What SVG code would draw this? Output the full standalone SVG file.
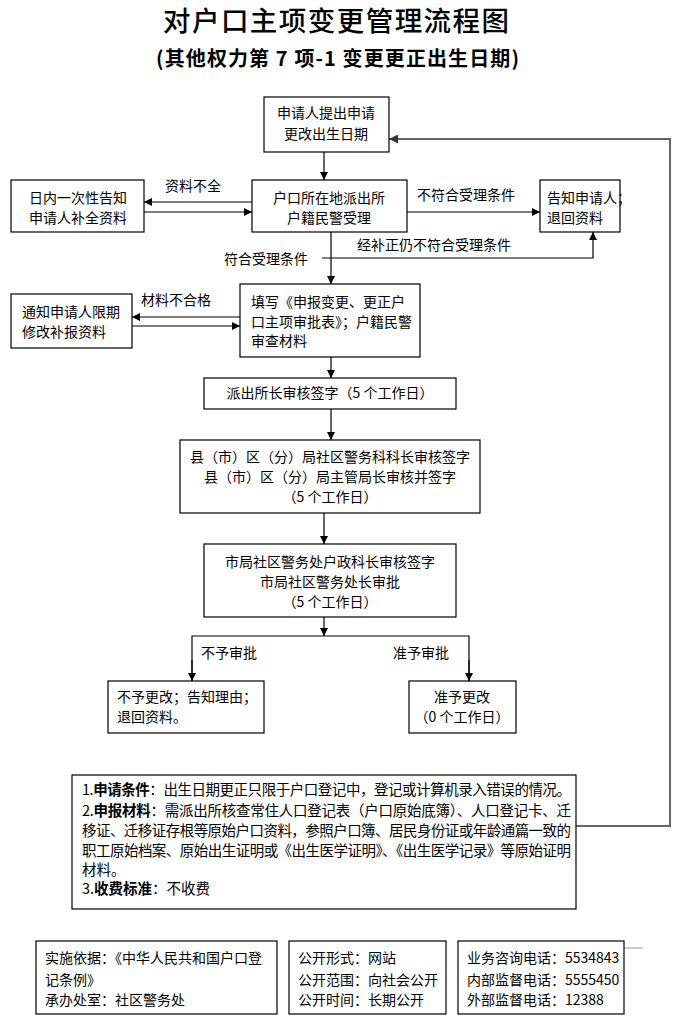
<svg xmlns="http://www.w3.org/2000/svg" width="680" height="1032" viewBox="0 0 680 1032">
<style>
text{font-family:"Noto Sans CJK SC","Liberation Sans",sans-serif;fill:#000}
.t{font-size:14px}
.c{text-anchor:middle}
.box{fill:#fff;stroke:#000;stroke-width:1.2}
.ln{fill:none;stroke:#000;stroke-width:1.2}
.gl{fill:none;stroke:#666;stroke-width:2}
.b{font-weight:bold}
.n{font-size:14.5px}
</style>
<defs>
<marker id="ah" viewBox="0 0 10 10" refX="10" refY="5" markerWidth="8" markerHeight="8" markerUnits="userSpaceOnUse" orient="auto"><path d="M0,0 L10,5 L0,10 z" fill="#000"/></marker>
<marker id="ahg" viewBox="0 0 10 10" refX="10" refY="5" markerWidth="9" markerHeight="9" markerUnits="userSpaceOnUse" orient="auto"><path d="M0,0 L10,5 L0,10 z" fill="#333"/></marker>
</defs>
<rect width="680" height="1032" fill="#fff"/>
<text x="163" y="31" style="font-size:27.5px;font-weight:500" textLength="346" lengthAdjust="spacing">对户口主项变更管理流程图</text>
<text x="156" y="66" class="b" style="font-size:20px" textLength="363" lengthAdjust="spacing">(其他权力第 7 项-1 变更更正出生日期)</text>

<g id="connectors">
<line class="ln" x1="324" y1="152" x2="324" y2="180" marker-end="url(#ah)"/>
<line class="ln" x1="252" y1="202" x2="144" y2="202" marker-end="url(#ah)"/>
<line class="ln" x1="144" y1="212" x2="252" y2="212" marker-end="url(#ah)"/>
<line class="ln" x1="407" y1="212" x2="540" y2="212" marker-end="url(#ah)"/>
<line class="ln" x1="331" y1="232" x2="331" y2="284" marker-end="url(#ah)"/>
<polyline class="ln" points="322,258 593,258 593,232" marker-end="url(#ah)"/>
<line class="ln" x1="240" y1="317" x2="132" y2="317" marker-end="url(#ah)"/>
<line class="ln" x1="132" y1="326" x2="240" y2="326" marker-end="url(#ah)"/>
<line class="ln" x1="331" y1="357" x2="331" y2="378" marker-end="url(#ah)"/>
<line class="ln" x1="331" y1="409" x2="331" y2="440" marker-end="url(#ah)"/>
<line class="ln" x1="324" y1="513" x2="324" y2="544" marker-end="url(#ah)"/>
<line class="ln" x1="324" y1="617" x2="324" y2="636" marker-end="url(#ah)"/>
<polyline class="ln" points="192,681 192,636 469,636 469,681"/>
<line class="ln" x1="192" y1="660" x2="192" y2="681" marker-end="url(#ah)"/>
<line class="ln" x1="469" y1="660" x2="469" y2="681" marker-end="url(#ah)"/>
<polyline class="gl" points="576,826 670,826 670,139 389,139" marker-end="url(#ahg)"/>
<line x1="624" y1="948" x2="643" y2="948" stroke="#999" stroke-width="1"/>
<text x="165" y="191" class="t">资料不全</text>
<text x="417" y="200" class="t">不符合受理条件</text>
<text x="357" y="250" class="t">经补正仍不符合受理条件</text>
<text x="224" y="264" class="t">符合受理条件</text>
<text x="141" y="305" class="t">材料不合格</text>
<text x="201" y="658" class="t">不予审批</text>
<text x="393" y="658" class="t">准予审批</text>
</g>

<g id="n1"><rect class="box" x="264" y="97" width="125" height="55"/>
<text x="326" y="118" class="t c">申请人提出申请</text><text x="326" y="139" class="t c">更改出生日期</text></g>

<g id="n2"><rect class="box" x="252" y="180" width="155" height="52"/>
<text x="329" y="203" class="t c">户口所在地派出所</text><text x="329" y="223" class="t c">户籍民警受理</text></g>

<g id="n3"><rect class="box" x="11" y="180" width="133" height="52"/>
<text x="78" y="203" class="t c">日内一次性告知</text><text x="78" y="223" class="t c">申请人补全资料</text></g>

<g id="n4"><rect class="box" x="540" y="180" width="80" height="52"/>
<text x="547" y="203" class="t">告知申请人；</text><text x="547" y="223" class="t">退回资料</text></g>

<g id="n5"><rect class="box" x="240" y="284" width="180" height="73"/>
<text x="251" y="307" class="t">填写《申报变更、更正户</text><text x="251" y="327" class="t">口主项审批表》；户籍民警</text><text x="251" y="346" class="t">审查材料</text></g>

<g id="n6"><rect class="box" x="11" y="294" width="121" height="54"/>
<text x="22" y="317" class="t">通知申请人限期</text><text x="22" y="337" class="t">修改补报资料</text></g>

<g id="n7"><rect class="box" x="204" y="378" width="252" height="31"/>
<text x="330" y="398" class="t c">派出所长审核签字（5 个工作日）</text></g>

<g id="n8"><rect class="box" x="180" y="440" width="300" height="73"/>
<text x="330" y="462" class="t c">县（市）区（分）局社区警务科科长审核签字</text><text x="330" y="482" class="t c">县（市）区（分）局主管局长审核并签字</text><text x="330" y="502" class="t c">（5 个工作日）</text></g>

<g id="n9"><rect class="box" x="204" y="544" width="252" height="73"/>
<text x="330" y="567" class="t c">市局社区警务处户政科长审核签字</text><text x="330" y="587" class="t c">市局社区警务处长审批</text><text x="330" y="607" class="t c">（5 个工作日）</text></g>

<g id="n10"><rect class="box" x="108" y="681" width="156" height="52"/>
<text x="117" y="702" class="t">不予更改；告知理由；</text><text x="117" y="722" class="t">退回资料。</text></g>

<g id="n11"><rect class="box" x="409" y="681" width="107" height="52"/>
<text x="462" y="702" class="t c">准予更改</text><text x="462" y="722" class="t c">（0 个工作日）</text></g>

<g id="notes"><rect class="box" x="72" y="775" width="504" height="134"/>
<text x="82" y="795" class="n" textLength="489" lengthAdjust="spacing">1.<tspan class="b">申请条件</tspan>：出生日期更正只限于户口登记中，登记或计算机录入错误的情况。</text>
<text x="82" y="816" class="n" textLength="489" lengthAdjust="spacing">2.<tspan class="b">申报材料</tspan>：需派出所核查常住人口登记表（户口原始底簿）、人口登记卡、迁</text>
<text x="82" y="836" class="n" textLength="489" lengthAdjust="spacing">移证、迁移证存根等原始户口资料，参照户口簿、居民身份证或年龄通篇一致的</text>
<text x="82" y="856" class="n" textLength="489" lengthAdjust="spacing">职工原始档案、原始出生证明或《出生医学证明》、《出生医学记录》等原始证明</text>
<text x="82" y="875" class="n">材料。</text>
<text x="82" y="894" class="n">3.<tspan class="b">收费标准</tspan>：不收费</text></g>

<g id="f1"><rect class="box" x="36" y="941" width="241" height="73"/>
<text x="45" y="963" class="t">实施依据：《中华人民共和国户口登</text><text x="45" y="985" class="t">记条例》</text><text x="45" y="1005" class="t">承办处室：社区警务处</text></g>

<g id="f2"><rect class="box" x="289" y="941" width="157" height="73"/>
<text x="298" y="963" class="t">公开形式：网站</text><text x="298" y="985" class="t">公开范围：向社会公开</text><text x="298" y="1005" class="t">公开时间：长期公开</text></g>

<g id="f3"><rect class="box" x="458" y="941" width="166" height="73"/>
<text x="467" y="963" class="t">业务咨询电话：5534843</text><text x="467" y="985" class="t">内部监督电话：5555450</text><text x="467" y="1005" class="t">外部监督电话：12388</text></g>
</svg>
